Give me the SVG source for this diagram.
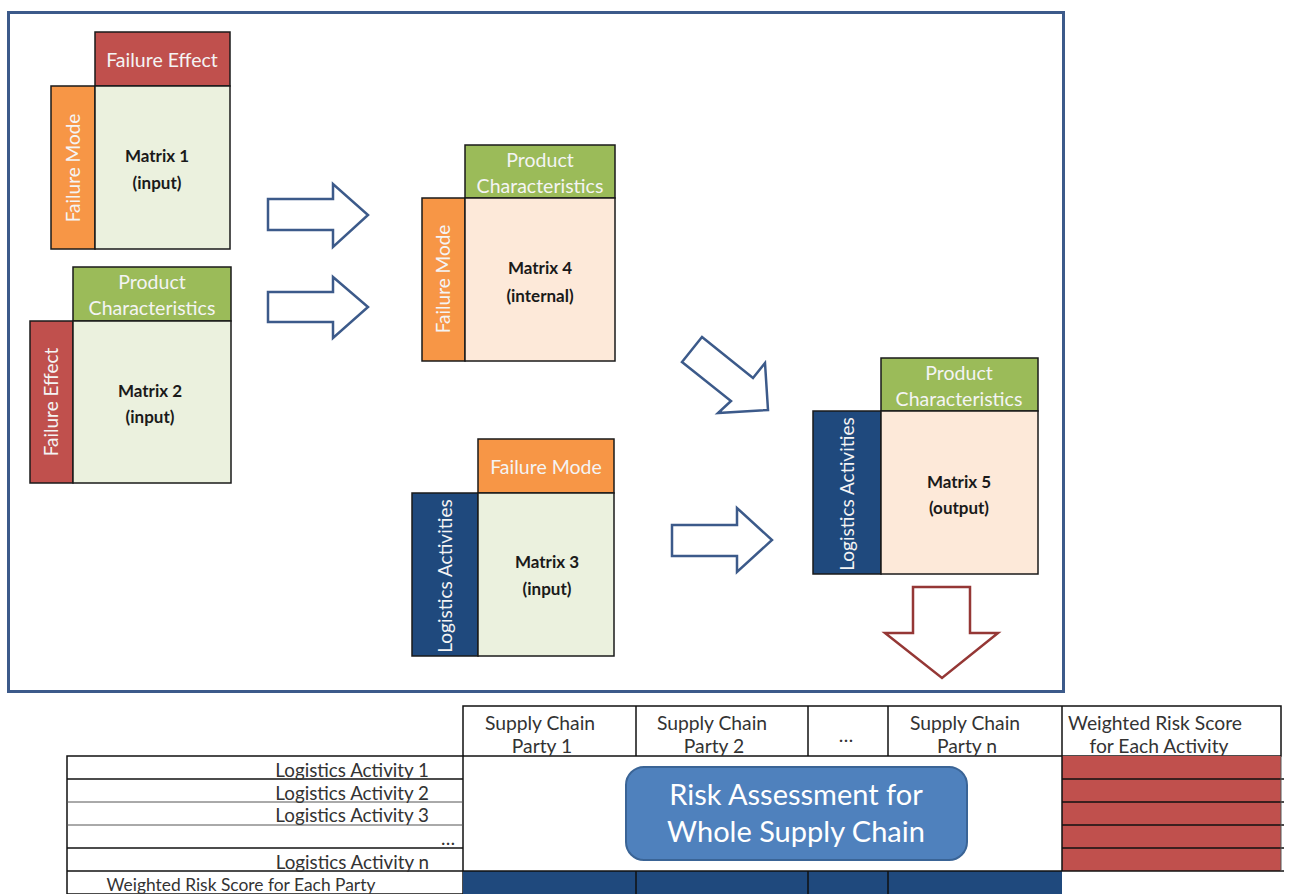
<svg xmlns="http://www.w3.org/2000/svg" width="1290" height="894" viewBox="0 0 1290 894">
<style>
text{font-family:Lato,"Open Sans","Liberation Sans",sans-serif}
.box{stroke:#1a1a1a;stroke-width:1.5}
.in{fill:#ebf1de}
.out{fill:#fde9d9}
.red{fill:#c0504d}
.org{fill:#f79646}
.grn{fill:#9bbb59}
.blu{fill:#1f497d}
.lab{fill:#f4f4f4;font-size:19.5px;text-anchor:middle}
.vl{fill:#f4f4f4;font-size:19px;text-anchor:middle}
.ttl{fill:#1a1a1a;font-size:17px;font-weight:bold;text-anchor:middle}
.arr{fill:#fff;stroke:#3c5a8a;stroke-width:2.5;stroke-linejoin:miter}
.arrR{fill:#fff;stroke:#953735;stroke-width:2.5}
.tt{fill:#333;font-size:19.3px;text-anchor:middle}
.rt{fill:#333;font-size:18.8px;text-anchor:end}
.ln{stroke:#111;stroke-width:1.5}
.lg{stroke:#555;stroke-width:1}
</style>
<rect width="1290" height="894" fill="#fff"/>
<rect x="8.5" y="12.5" width="1055" height="679" fill="none" stroke="#3c5a8a" stroke-width="3"/>

<g id="matrix1">
<rect class="box red" x="95" y="32" width="135" height="54"/>
<rect class="box org" x="51" y="86" width="44" height="163"/>
<rect class="box in" x="95" y="86" width="135" height="163"/>
<text class="lab" x="162" y="67">Failure Effect</text>
<text class="vl" transform="translate(80,168) rotate(-90)">Failure Mode</text>
<text class="ttl" x="157" y="162">Matrix 1</text>
<text class="ttl" x="157" y="189">(input)</text>
</g>

<g id="matrix2">
<rect class="box grn" x="73" y="267" width="158" height="54"/>
<rect class="box red" x="30" y="321" width="43" height="162"/>
<rect class="box in" x="73" y="321" width="158" height="162"/>
<text class="lab" x="152" y="289">Product</text>
<text class="lab" x="152" y="315">Characteristics</text>
<text class="vl" transform="translate(58,402) rotate(-90)">Failure Effect</text>
<text class="ttl" x="150" y="397">Matrix 2</text>
<text class="ttl" x="150" y="423">(input)</text>
</g>

<g id="matrix4">
<rect class="box grn" x="465" y="145" width="150" height="53"/>
<rect class="box org" x="422" y="198" width="43" height="163"/>
<rect class="box out" x="465" y="198" width="150" height="163"/>
<text class="lab" x="540" y="167">Product</text>
<text class="lab" x="540" y="193">Characteristics</text>
<text class="vl" transform="translate(450,279) rotate(-90)">Failure Mode</text>
<text class="ttl" x="540" y="274">Matrix 4</text>
<text class="ttl" x="540" y="302">(internal)</text>
</g>

<g id="matrix3">
<rect class="box org" x="478" y="439" width="136" height="54"/>
<rect class="box blu" x="412" y="493" width="66" height="163"/>
<rect class="box in" x="478" y="493" width="136" height="163"/>
<text class="lab" x="546" y="474">Failure Mode</text>
<text class="vl" transform="translate(452,576) rotate(-90)">Logistics Activities</text>
<text class="ttl" x="547" y="568">Matrix 3</text>
<text class="ttl" x="547" y="595">(input)</text>
</g>

<g id="matrix5">
<rect class="box grn" x="881" y="358" width="157" height="53"/>
<rect class="box blu" x="813" y="411" width="68" height="163"/>
<rect class="box out" x="881" y="411" width="157" height="163"/>
<text class="lab" x="959" y="380">Product</text>
<text class="lab" x="959" y="406">Characteristics</text>
<text class="vl" transform="translate(854,494) rotate(-90)">Logistics Activities</text>
<text class="ttl" x="959" y="488">Matrix 5</text>
<text class="ttl" x="959" y="514">(output)</text>
</g>

<g id="connectors">
<polygon class="arr" points="268,199 333,199 333,184 368,215 333,247 333,230 268,230"/>
<polygon class="arr" points="268,292 333,292 333,277 368,307 333,338 333,322 268,322"/>
<polygon class="arr" points="702,337 753,378 765,363 768,410 718,413 731,401 682,362"/>
<polygon class="arr" points="672,525 737,525 737,508 772,540 737,572 737,556 672,556"/>
<polygon class="arrR" points="913,587 970,587 970,633 998,633 942,678 885,633 913,633"/>
</g>

<g id="table">
<rect x="463" y="706" width="818" height="50" fill="#fff" class="ln"/>
<line class="ln" x1="636" y1="706" x2="636" y2="756"/>
<line class="ln" x1="808" y1="706" x2="808" y2="756"/>
<line class="ln" x1="888" y1="706" x2="888" y2="756"/>
<line class="ln" x1="1062" y1="706" x2="1062" y2="756"/>
<text class="tt" x="540" y="730">Supply Chain</text>
<text class="tt" x="542" y="753">Party 1</text>
<text class="tt" x="712" y="730">Supply Chain</text>
<text class="tt" x="714" y="753">Party 2</text>
<text class="tt" x="846" y="742">…</text>
<text class="tt" x="965" y="730">Supply Chain</text>
<text class="tt" x="967" y="753">Party n</text>
<text class="tt" x="1155" y="730">Weighted Risk Score</text>
<text class="tt" x="1159" y="753">for Each Activity</text>

<rect x="67" y="756" width="396" height="138" fill="#fff" class="ln"/>
<line class="ln" x1="67" y1="779" x2="463" y2="779"/>
<line class="lg" x1="67" y1="802" x2="463" y2="802"/>
<line class="lg" x1="67" y1="825" x2="463" y2="825"/>
<line class="ln" x1="67" y1="848" x2="463" y2="848"/>
<line class="ln" x1="67" y1="871" x2="463" y2="871"/>
<text class="rt" x="429" y="777">Logistics Activity 1</text>
<text class="rt" x="429" y="800">Logistics Activity 2</text>
<text class="rt" x="429" y="822">Logistics Activity 3</text>
<text class="rt" x="455" y="845">…</text>
<text class="rt" x="429" y="869">Logistics Activity n</text>
<text x="241" y="891" fill="#333" font-size="17.4" text-anchor="middle">Weighted Risk Score for Each Party</text>

<rect x="1062" y="756" width="219" height="115" fill="#c0504d"/>
<line class="ln" x1="1062" y1="779" x2="1284" y2="779"/>
<line class="ln" x1="1062" y1="802" x2="1284" y2="802"/>
<line class="ln" x1="1062" y1="825" x2="1284" y2="825"/>
<line class="ln" x1="1062" y1="848" x2="1284" y2="848"/>
<line class="ln" x1="1062" y1="871" x2="1284" y2="871"/>
<line class="lg" x1="1281" y1="756" x2="1281" y2="871"/>
<line class="ln" x1="1062" y1="756" x2="1062" y2="871"/>

<rect x="463" y="871" width="599" height="23" fill="#1f497d"/>
<line class="ln" x1="463" y1="871" x2="1062" y2="871"/>
<line class="ln" x1="636" y1="871" x2="636" y2="894"/>
<line class="ln" x1="808" y1="871" x2="808" y2="894"/>
<line class="ln" x1="888" y1="871" x2="888" y2="894"/>
</g>

<g id="risk-box">
<rect x="626" y="767" width="341" height="93" rx="18" fill="#4f81bd" stroke="#3a6496" stroke-width="2"/>
<text x="796" y="805" fill="#fff" font-size="29" text-anchor="middle">Risk Assessment for</text>
<text x="796" y="842" fill="#fff" font-size="29" text-anchor="middle">Whole Supply Chain</text>
</g>
</svg>
